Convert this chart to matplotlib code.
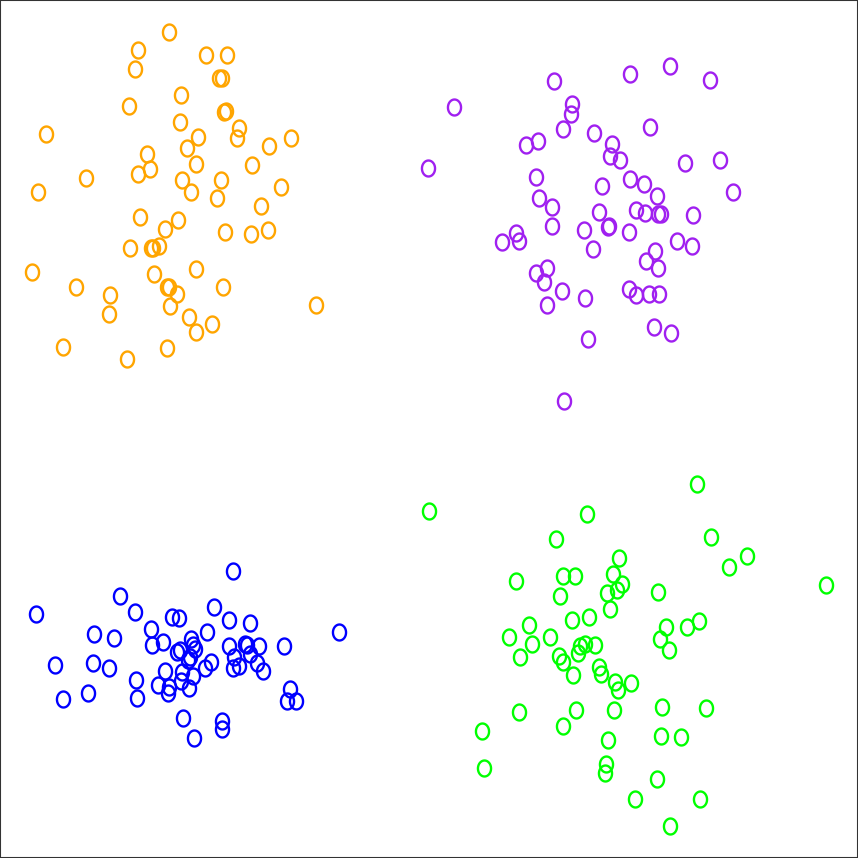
import numpy as np
import matplotlib
matplotlib.use("Agg")
import matplotlib.pyplot as plt
from matplotlib.path import Path

# Cluster data (x, y); y grows downward
orange_x = [169, 138, 206, 227, 135, 219, 222, 181, 129, 224, 226, 180, 239, 46, 198, 237, 291, 269,
            187, 147, 196, 252, 150, 138, 86, 182, 221, 281, 38, 191, 217, 261, 140, 178, 165, 225,
            251, 268, 130, 151, 153, 159, 196, 32, 154, 76, 167, 169, 223, 177, 110, 170, 109, 316,
            189, 212, 196, 63, 167, 127]
orange_y = [32, 50, 55, 55, 69, 78, 78, 95, 106, 112, 111, 122, 128, 134, 137, 138, 138, 146,
            148, 154, 164, 165, 169, 174, 178, 180, 180, 187, 192, 192, 198, 206, 217, 220, 229, 232,
            234, 230, 248, 248, 248, 246, 269, 272, 274, 287, 287, 287, 287, 294, 295, 306, 314, 305,
            317, 324, 332, 347, 348, 359]

purple_x = [554, 630, 670, 710, 454, 572, 571, 563, 650, 594, 538, 526, 612, 610, 620, 685, 720, 428,
            536, 602, 630, 644, 657, 733, 539, 552, 599, 636, 645, 658, 661, 693, 552, 608, 609, 584,
            629, 516, 502, 519, 593, 677, 692, 655, 646, 658, 536, 547, 544, 562, 585, 629, 636, 649,
            659, 547, 654, 671, 588, 564]
purple_y = [81, 74, 66, 80, 107, 104, 114, 129, 127, 133, 141, 145, 144, 156, 160, 163, 160, 168,
            177, 186, 179, 184, 196, 192, 198, 207, 212, 210, 213, 214, 214, 215, 226, 227, 226, 230,
            232, 233, 242, 241, 249, 241, 246, 251, 261, 268, 273, 268, 282, 291, 298, 289, 295, 294,
            294, 305, 327, 333, 339, 401]

blue_x = [233, 120, 36, 135, 172, 179, 214, 229, 250, 151, 94, 114, 207, 191, 339, 163, 152, 180,
          193, 177, 190, 195, 188, 229, 245, 247, 259, 284, 234, 250, 211, 205, 233, 239, 257, 263,
          55, 93, 109, 165, 182, 193, 181, 136, 158, 169, 168, 189, 88, 63, 137, 290, 287, 296,
          183, 222, 222, 194]
blue_y = [571, 596, 614, 612, 617, 618, 607, 620, 623, 629, 634, 638, 632, 639, 632, 642, 645, 650,
          645, 652, 657, 649, 660, 646, 644, 645, 646, 646, 657, 654, 662, 668, 668, 666, 663, 671,
          665, 663, 668, 671, 672, 676, 681, 680, 685, 687, 693, 688, 693, 699, 698, 689, 701, 701,
          718, 721, 729, 738]

green_x = [697, 429, 587, 556, 711, 747, 729, 619, 613, 563, 575, 516, 622, 617, 607, 658, 826, 560,
           610, 572, 589, 529, 666, 687, 699, 509, 550, 532, 660, 669, 580, 585, 595, 578, 559, 520,
           563, 573, 599, 601, 615, 618, 631, 519, 576, 614, 662, 706, 482, 563, 608, 661, 681, 484,
           606, 605, 657, 635, 700, 670]
green_y = [484, 511, 514, 539, 537, 556, 567, 558, 574, 576, 576, 581, 584, 590, 593, 592, 585, 596,
           609, 620, 617, 625, 627, 627, 621, 637, 637, 644, 639, 650, 646, 644, 645, 653, 656, 657,
           662, 675, 667, 674, 682, 690, 683, 712, 710, 710, 707, 708, 731, 726, 740, 736, 737, 768,
           764, 773, 779, 799, 799, 826]

series = [
    (orange_x, orange_y, "#FFA500"),
    (purple_x, purple_y, "#A020F0"),
    (blue_x, blue_y, "#0000FF"),
    (green_x, green_y, "#00FF00"),
]

# Slightly tall ellipse marker (like the letter O)
t = np.linspace(0, 2 * np.pi, 64)
verts = np.column_stack([0.41 * np.cos(t), 0.5 * np.sin(t)])
oval = Path(verts, closed=True)

fig = plt.figure(figsize=(8.58, 8.58), dpi=100)
ax = fig.add_axes([0, 0, 1, 1])
for xs, ys, col in series:
    ax.plot(xs, ys, linestyle="none", marker=oval, markersize=11.5,
            markerfacecolor="none", markeredgecolor=col, markeredgewidth=1.7)

ax.set_xlim(0, 858)
ax.set_ylim(858, 0)
ax.set_xticks([])
ax.set_yticks([])
for s in ax.spines.values():
    s.set_color("#333333")
    s.set_linewidth(1.5)

fig.savefig("out.png", dpi=100)
